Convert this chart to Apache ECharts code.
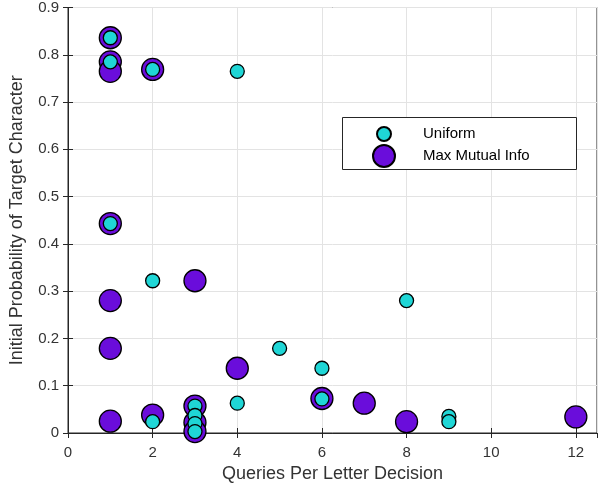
<!DOCTYPE html>
<html>
<head>
<meta charset="utf-8">
<script src="https://cdn.jsdelivr.net/npm/echarts@6/dist/echarts.min.js"></script>
<style>html,body{margin:0;padding:0;background:#fff;}#c{width:600px;height:490px;}</style>
</head>
<body>
<div id="c"></div>
<script>
var xTitle = 'Queries Per Letter Decision';
var yTitle = 'Initial Probability of Target Character';
var seriesNames = ['Uniform', 'Max Mutual Info'];

var uniformX = [1, 1, 1, 2, 4, 2, 2, 3, 3, 3, 3, 4, 5, 6, 6, 8, 9, 9];
var uniformY = [0.836, 0.785, 0.443, 0.769, 0.765, 0.322, 0.024, 0.057, 0.037, 0.02, 0.003, 0.063, 0.179, 0.137, 0.072, 0.28, 0.035, 0.024];

var mmiX = [1, 1, 1, 1, 1, 1, 1, 2, 2, 3, 3, 3, 3, 4, 6, 7, 8, 12];
var mmiY = [0.836, 0.785, 0.765, 0.443, 0.28, 0.179, 0.025, 0.769, 0.038, 0.322, 0.057, 0.022, 0.003, 0.137, 0.073, 0.063, 0.024, 0.034];

function pairs(xs, ys) { return xs.map(function (x, i) { return [x, ys[i]]; }); }

var axisColor = '#262626';
var textColor = '#333333';
var gridColor = '#e3e3e3';
var font = 'Liberation Sans, Arial, Helvetica, sans-serif';

var chart = echarts.init(document.getElementById('c'), null, { renderer: 'canvas' });
chart.setOption({
  animation: false,
  backgroundColor: '#fff',
  grid: { left: 66, top: 7, right: 3, bottom: 57, show: true, borderColor: axisColor, borderWidth: 1, backgroundColor: 'transparent' },
  xAxis: [{
    type: 'value', min: 0, max: 12.5, interval: 2,
    name: xTitle, nameLocation: 'middle', nameGap: 24,
    nameTextStyle: { fontFamily: font, fontSize: 18, color: textColor },
    axisLine: { show: true, lineStyle: { color: axisColor } },
    axisTick: { show: true, inside: true, length: 5, lineStyle: { color: axisColor } },
    axisLabel: { fontFamily: font, fontSize: 15, color: textColor, margin: 12, showMaxLabel: false },
    splitLine: { show: true, lineStyle: { color: gridColor } }
  }, {
    type: 'value', min: 0, max: 12.5, interval: 2, position: 'top',
    axisLine: { show: true, lineStyle: { color: axisColor } },
    axisTick: { show: true, inside: true, length: 5, lineStyle: { color: axisColor } },
    axisLabel: { show: false }, splitLine: { show: false }
  }],
  yAxis: [{
    type: 'value', min: 0, max: 0.9, interval: 0.1,
    name: yTitle, nameLocation: 'middle', nameGap: 42,
    nameTextStyle: { fontFamily: font, fontSize: 18, color: textColor },
    axisLine: { show: true, lineStyle: { color: axisColor } },
    axisTick: { show: true, inside: true, length: 5, lineStyle: { color: axisColor } },
    axisLabel: { fontFamily: font, fontSize: 15, color: textColor, margin: 9,
      formatter: function (v) { return String(Math.round(v * 10) / 10); } },
    splitLine: { show: true, lineStyle: { color: gridColor } }
  }, {
    type: 'value', min: 0, max: 0.9, interval: 0.1, position: 'right',
    axisLine: { show: true, lineStyle: { color: axisColor } },
    axisTick: { show: true, inside: true, length: 5, lineStyle: { color: axisColor } },
    axisLabel: { show: false }, splitLine: { show: false }
  }],
  graphic: [{
    type: 'rect', z: 3, shape: { x: 342.5, y: 117.5, width: 234, height: 52 },
    style: { fill: '#fff', stroke: '#262626', lineWidth: 1 }
  }],
  legend: [{
    data: [seriesNames[0]], orient: 'vertical', left: 376, top: 126, padding: 0, z: 5,
    itemWidth: 14, itemHeight: 14, icon: 'circle',
    textStyle: { fontFamily: font, fontSize: 15, color: '#000', padding: [0, 0, 0, 27] }
  }, {
    data: [seriesNames[1]], orient: 'vertical', left: 372, top: 144, padding: 0, z: 5,
    itemWidth: 22, itemHeight: 22, icon: 'circle',
    textStyle: { fontFamily: font, fontSize: 15, color: '#000', padding: [0, 0, 0, 23] }
  }],
  series: [{
    name: seriesNames[1], type: 'scatter', z: 2, symbol: 'circle', symbolSize: 22,
    itemStyle: { color: '#6a0ddb', borderColor: '#000', borderWidth: 1.3, opacity: 1 },
    data: pairs(mmiX, mmiY)
  }, {
    name: seriesNames[0], type: 'scatter', z: 3, symbol: 'circle', symbolSize: 14,
    itemStyle: { color: '#1fd6d6', borderColor: '#000', borderWidth: 1.3, opacity: 1 },
    data: pairs(uniformX, uniformY)
  }]
});
</script>
</body>
</html>
